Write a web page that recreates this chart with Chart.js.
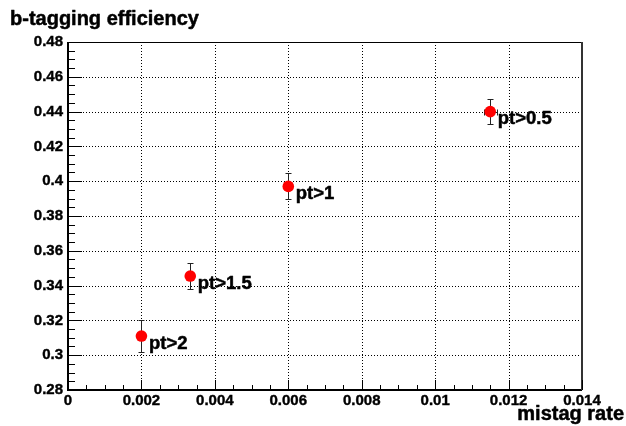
<!DOCTYPE html>
<html>
<head>
<meta charset="utf-8">
<script src="https://cdn.jsdelivr.net/npm/chart.js@4/dist/chart.umd.min.js"></script>
<style>
html,body{margin:0;padding:0;background:#fff;}
#wrap{width:626px;height:426px;position:relative;}
</style>
</head>
<body>
<div id="wrap"><canvas id="c" width="626" height="426"></canvas></div>
<script>
// ---- data ----
const pointLabels = ['pt>0.5', 'pt>1', 'pt>1.5', 'pt>2'];
const mistagRate = [0.0115, 0.0060, 0.00333, 0.0020];
const bTagEff = [0.440, 0.397, 0.3455, 0.311];
const effErr = [0.0074, 0.0075, 0.0077, 0.0090];
const mistagErr = [0.00018, 0.0001, 0.00008, 0.00006];

const xTickValues = [0, 0.002, 0.004, 0.006, 0.008, 0.010, 0.012, 0.014];
const xTickLabels = ['0', '0.002', '0.004', '0.006', '0.008', '0.01', '0.012', '0.014'];
const yTickValues = [0.28, 0.30, 0.32, 0.34, 0.36, 0.38, 0.40, 0.42, 0.44, 0.46, 0.48];
const yTickLabels = ['0.28', '0.3', '0.32', '0.34', '0.36', '0.38', '0.4', '0.42', '0.44', '0.46', '0.48'];
const xMinorStep = 0.0005;
const yMinorStep = 0.005;

const xTitle = 'mistag rate';
const yTitle = 'b-tagging efficiency';

const FONT = '"Liberation Sans", Arial, Helvetica, sans-serif';

function boldText(ctx, s, x, y) {
  ctx.lineWidth = 0.5;
  ctx.strokeStyle = '#000';
  ctx.lineJoin = 'round';
  ctx.strokeText(s, x, y);
  ctx.fillText(s, x, y);
}

// ---- plugins ----
const rootStyle = {
  id: 'rootStyle',
  beforeDatasetsDraw(chart) {
    const {ctx, chartArea: a, scales: {x, y}} = chart;
    ctx.save();
    ctx.strokeStyle = '#000';
    ctx.lineWidth = 1;
    ctx.setLineDash([1, 2]);
    xTickValues.forEach(v => {
      const px = Math.round(x.getPixelForValue(v)) + 0.5;
      if (px <= a.left + 2 || px >= a.right - 2) return;
      ctx.beginPath(); ctx.moveTo(px, a.top); ctx.lineTo(px, a.bottom); ctx.stroke();
    });
    yTickValues.forEach(v => {
      const py = Math.round(y.getPixelForValue(v)) + 0.5;
      if (py <= a.top + 2 || py >= a.bottom - 2) return;
      ctx.beginPath(); ctx.moveTo(a.left, py); ctx.lineTo(a.right, py); ctx.stroke();
    });
    ctx.setLineDash([]);
    // error bars
    ctx.strokeStyle = '#222';
    ctx.lineWidth = 1;
    const cap = 3;
    for (let i = 0; i < mistagRate.length; i++) {
      const px = Math.round(x.getPixelForValue(mistagRate[i])) + 0.5;
      const py = Math.round(y.getPixelForValue(bTagEff[i])) + 0.5;
      const yt = Math.round(y.getPixelForValue(bTagEff[i] + effErr[i])) + 0.5;
      const yb = Math.round(y.getPixelForValue(bTagEff[i] - effErr[i])) + 0.5;
      const xl = Math.round(x.getPixelForValue(mistagRate[i] - mistagErr[i])) + 0.5;
      const xr = Math.round(x.getPixelForValue(mistagRate[i] + mistagErr[i])) + 0.5;
      ctx.beginPath();
      ctx.moveTo(px, yt); ctx.lineTo(px, yb);
      ctx.moveTo(px - cap, yt); ctx.lineTo(px + cap, yt);
      ctx.moveTo(px - cap, yb); ctx.lineTo(px + cap, yb);
      ctx.moveTo(xl, py); ctx.lineTo(xr, py);
      ctx.moveTo(xl, py - cap); ctx.lineTo(xl, py + cap);
      ctx.moveTo(xr, py - cap); ctx.lineTo(xr, py + cap);
      ctx.stroke();
    }
    ctx.restore();
  },
  afterDatasetsDraw(chart) {
    const {ctx, chartArea: a, scales: {x, y}} = chart;
    ctx.save();
    // frame
    ctx.strokeStyle = '#000';
    ctx.lineWidth = 1;
    ctx.beginPath(); ctx.moveTo(a.left, a.top + 0.5); ctx.lineTo(a.right, a.top + 0.5); ctx.stroke();
    ctx.lineWidth = 2;
    ctx.beginPath();
    ctx.moveTo(a.left, a.top); ctx.lineTo(a.left, a.bottom); ctx.lineTo(a.right, a.bottom);
    ctx.stroke();
    ctx.strokeStyle = '#333';
    ctx.beginPath(); ctx.moveTo(a.right, a.top); ctx.lineTo(a.right, a.bottom); ctx.stroke();
    // ticks
    ctx.strokeStyle = '#000';
    ctx.lineWidth = 1;
    ctx.beginPath();
    const yMin = yTickValues[0], yMax = yTickValues[yTickValues.length - 1];
    const nY = Math.round((yMax - yMin) / yMinorStep);
    for (let k = 0; k <= nY; k++) {
      const v = yMin + k * yMinorStep;
      const py = Math.round(y.getPixelForValue(v)) + 0.5;
      const len = (k % 4 === 0) ? 14 : 7;
      ctx.moveTo(a.left, py); ctx.lineTo(a.left + len, py);
    }
    const xMin = xTickValues[0], xMax = xTickValues[xTickValues.length - 1];
    const nX = Math.round((xMax - xMin) / xMinorStep);
    for (let k = 0; k <= nX; k++) {
      const v = xMin + k * xMinorStep;
      const px = Math.round(x.getPixelForValue(v)) + 0.5;
      const len = (k % 4 === 0) ? 10 : 5;
      ctx.moveTo(px, a.bottom); ctx.lineTo(px, a.bottom - len);
    }
    ctx.stroke();
    // point labels
    ctx.fillStyle = '#000';
    ctx.font = 'bold 18.5px ' + FONT;
    ctx.textAlign = 'left';
    ctx.textBaseline = 'alphabetic';
    for (let i = 0; i < pointLabels.length; i++) {
      const px = x.getPixelForValue(mistagRate[i]);
      const py = y.getPixelForValue(bTagEff[i]);
      boldText(ctx, pointLabels[i], px + 7.5, py + 12.6);
    }
    // axis titles
    ctx.font = 'bold 20px ' + FONT;
    ctx.textAlign = 'left';
    boldText(ctx, yTitle, 10, 25);
    ctx.textAlign = 'right';
    boldText(ctx, xTitle, 624, 420);
    ctx.restore();
  }
};

new Chart(document.getElementById('c'), {
  type: 'scatter',
  data: {
    datasets: [{
      data: mistagRate.map((v, i) => ({x: v, y: bTagEff[i]})),
      backgroundColor: '#ff0000',
      borderWidth: 0,
      pointRadius: 5.8,
      pointHoverRadius: 5.8
    }]
  },
  options: {
    responsive: false,
    animation: false,
    devicePixelRatio: 1,
    layout: {padding: {top: 42, right: 44, bottom: 0, left: 0}},
    plugins: {legend: {display: false}, tooltip: {enabled: false}},
    events: [],
    scales: {
      x: {
        type: 'linear',
        min: xTickValues[0],
        max: xTickValues[xTickValues.length - 1],
        grid: {display: false, drawTicks: false},
        border: {display: false},
        afterBuildTicks: s => { s.ticks = xTickValues.map(v => ({value: v})); },
        afterFit: s => { s.height = 36; },
        ticks: {
          autoSkip: false,
          maxRotation: 0,
          padding: 2,
          color: '#000',
          textStrokeColor: '#000',
          textStrokeWidth: 0.4,
          font: {family: FONT, size: 15, weight: 'bold'},
          callback: (v, i) => xTickLabels[i]
        }
      },
      y: {
        type: 'linear',
        min: yTickValues[0],
        max: yTickValues[yTickValues.length - 1],
        grid: {display: false, drawTicks: false},
        border: {display: false},
        afterBuildTicks: s => { s.ticks = yTickValues.map(v => ({value: v})); },
        afterFit: s => { s.width = 68; },
        ticks: {
          autoSkip: false,
          padding: 5,
          color: '#000',
          textStrokeColor: '#000',
          textStrokeWidth: 0.4,
          font: {family: FONT, size: 15, weight: 'bold'},
          callback: (v, i) => yTickLabels[i]
        }
      }
    }
  },
  plugins: [rootStyle]
});
</script>
</body>
</html>
